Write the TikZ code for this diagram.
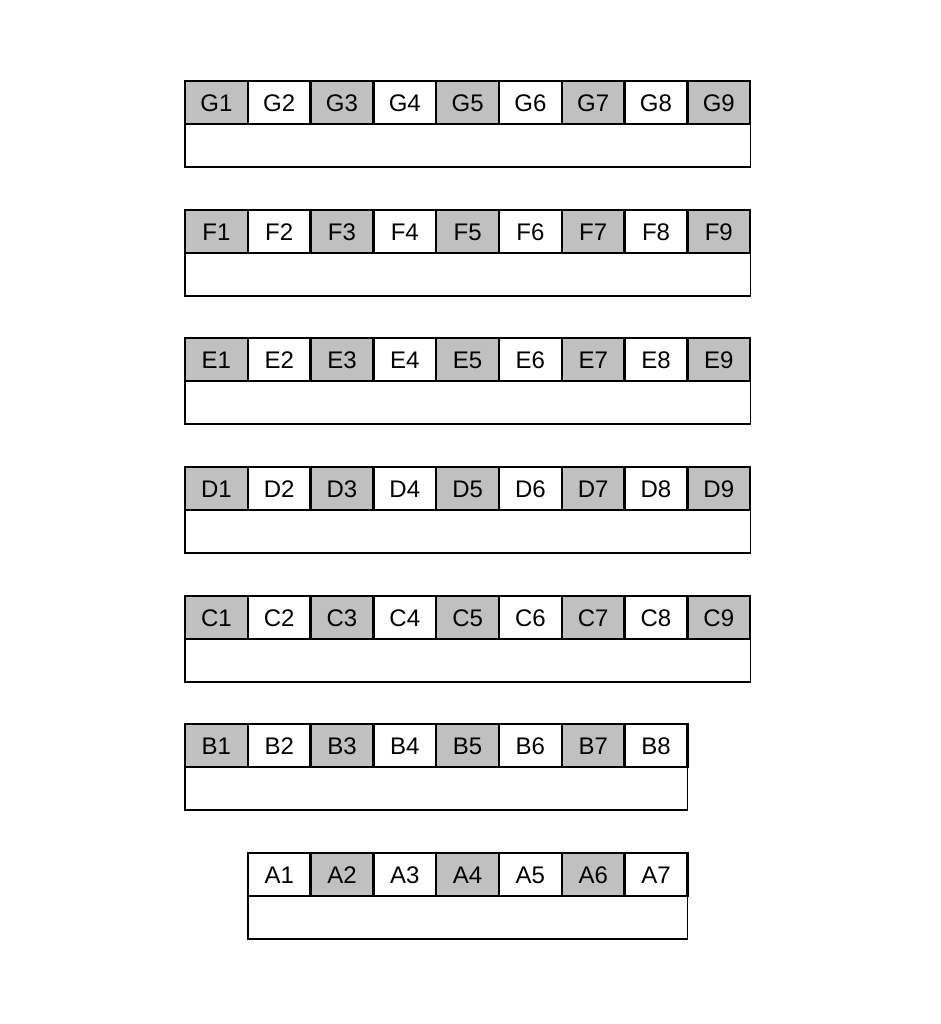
\documentclass[tikz,border=0pt]{standalone}
\usepackage{fontspec}
\setmainfont{Liberation Sans}
\usetikzlibrary{positioning}
\definecolor{cellgray}{RGB}{192,192,192}
\tikzset{
  cell/.style={ % one labelled slot of a row
    draw, rectangle, line width=1.2pt,
    minimum width=31.4pt, minimum height=21.5pt,
    inner sep=0pt, outer sep=0pt, text=black,
    text height=8.6pt, text depth=0pt,
    font=\fontsize{12}{14}\selectfont
  },
  tray/.style={ % empty box under a row of slots
    draw, rectangle, line width=0.7pt,
    minimum height=21.5pt, inner sep=0pt, outer sep=0pt
  }
}

\begin{document}
\begin{tikzpicture}[x=0.5pt, y=-0.5pt]
    \useasboundingbox (0,0) rectangle (941,1024);

    % rows: letter / slots / first column / top edge
    \foreach \r/\n/\s/\y in {G/9/1/81, F/9/1/210, E/9/1/338, D/9/1/467,
                             C/9/1/596, B/8/1/724, A/7/2/853} {
      \foreach \i in {1,...,\n} {
        \pgfmathtruncatemacro\c{\i+\s-1}
        \ifodd\c \def\shade{cellgray}\else\def\shade{white}\fi
        \node[cell, fill=\shade] (\r\i) at ({185+62.8*(\c-0.5)},{\y+21.5}) {\r\i};
      }
      \node[tray, anchor=north west, minimum width=\n*31.4pt] (\r tray) at (\r1.south west) {};
    }
\end{tikzpicture}
\end{document}
